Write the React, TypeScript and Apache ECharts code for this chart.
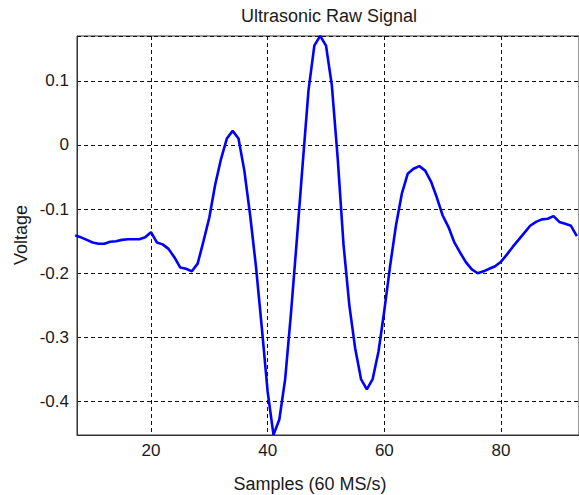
import React, { useEffect, useRef } from "react";
import * as echarts from "echarts";

const samples = [
  7, 8, 9, 10, 11, 12, 13, 14, 15, 16, 17, 18, 19, 20, 21, 22, 23, 24, 25, 26,
  27, 28, 29, 30, 31, 32, 33, 34, 35, 36, 37, 38, 39, 40, 41, 42, 43, 44, 45, 46,
  47, 48, 49, 50, 51, 52, 53, 54, 55, 56, 57, 58, 59, 60, 61, 62, 63, 64, 65, 66,
  67, 68, 69, 70, 71, 72, 73, 74, 75, 76, 77, 78, 79, 80, 81, 82, 83, 84, 85, 86,
  87, 88, 89, 90, 91, 92, 93,
];

const voltage = [
  -0.141, -0.144, -0.148, -0.152, -0.154, -0.154, -0.151, -0.15, -0.148, -0.147,
  -0.147, -0.147, -0.144, -0.136, -0.152, -0.155, -0.162, -0.175, -0.191, -0.193,
  -0.197, -0.185, -0.15, -0.113, -0.062, -0.022, 0.01, 0.022, 0.01, -0.04,
  -0.11, -0.19, -0.285, -0.385, -0.452, -0.428, -0.365, -0.262, -0.148, -0.03,
  0.085, 0.155, 0.17, 0.155, 0.093, -0.02, -0.155, -0.25, -0.317, -0.365,
  -0.381, -0.365, -0.322, -0.258, -0.188, -0.125, -0.076, -0.045, -0.037, -0.033,
  -0.04, -0.057, -0.082, -0.11, -0.128, -0.152, -0.168, -0.183, -0.194, -0.2,
  -0.197, -0.193, -0.189, -0.182, -0.171, -0.159, -0.148, -0.137, -0.126, -0.12,
  -0.116, -0.115, -0.111, -0.12, -0.123, -0.126, -0.142,
];

const titleText = "Ultrasonic Raw Signal";
const xLabel = "Samples (60 MS/s)";
const yLabel = "Voltage";

const FONT = "'Liberation Sans', Arial, sans-serif";

export default function App() {
  const ref = useRef<HTMLDivElement>(null);

  useEffect(() => {
    if (!ref.current) return;
    const chart = echarts.init(ref.current, null, { renderer: "svg" });
    const data = samples.map((s, i) => [s, voltage[i]]);
    chart.setOption({
      animation: false,
      backgroundColor: "#ffffff",
      grid: {
        left: 77,
        top: 36,
        right: -2,
        bottom: 60,
        show: true,
        borderColor: "#333333",
        borderWidth: 1,
        containLabel: false,
      },
      xAxis: {
        type: "value",
        min: 7.315,
        max: 93.37,
        splitNumber: 5,
        axisLine: { show: true, onZero: false, lineStyle: { color: "#333333", width: 1 } },
        axisTick: { show: false },
        axisLabel: {
          showMinLabel: false,
          showMaxLabel: false,
          color: "#1a1a1a",
          fontSize: 17,
          fontFamily: FONT,
          margin: 7,
        },
        splitLine: {
          show: true,
          lineStyle: { color: "#111111", type: [4, 3], width: 1 },
        },
      },
      yAxis: {
        type: "value",
        min: -0.4522,
        max: 0.1699,
        splitNumber: 5,
        axisLine: { show: true, onZero: false, lineStyle: { color: "#333333", width: 1 } },
        axisTick: { show: false },
        axisLabel: {
          showMinLabel: false,
          showMaxLabel: false,
          color: "#1a1a1a",
          fontSize: 17,
          fontFamily: FONT,
          margin: 8,
        },
        splitLine: {
          show: true,
          lineStyle: { color: "#111111", type: [4, 3], width: 1 },
        },
      },
      graphic: [
        {
          type: "text",
          x: 329,
          y: 16,
          style: {
            text: titleText,
            fill: "#1a1a1a",
            font: `18px ${FONT}`,
            textAlign: "center",
            textVerticalAlign: "middle",
          },
        },
        {
          type: "text",
          x: 310,
          y: 484,
          style: {
            text: xLabel,
            fill: "#1a1a1a",
            font: `18px ${FONT}`,
            textAlign: "center",
            textVerticalAlign: "middle",
          },
        },
        {
          type: "text",
          x: 21,
          y: 235,
          rotation: Math.PI / 2,
          style: {
            text: yLabel,
            fill: "#1a1a1a",
            font: `18px ${FONT}`,
            textAlign: "center",
            textVerticalAlign: "middle",
          },
        },
      ],
      series: [
        {
          type: "line",
          data,
          showSymbol: false,
          symbol: "none",
          smooth: false,
          clip: true,
          lineStyle: { color: "#0000ff", width: 2.6 },
        },
      ],
    });
    return () => chart.dispose();
  }, []);

  return (
    <div
      ref={ref}
      style={{ position: "absolute", left: 0, top: 0, width: 579, height: 495 }}
    />
  );
}
